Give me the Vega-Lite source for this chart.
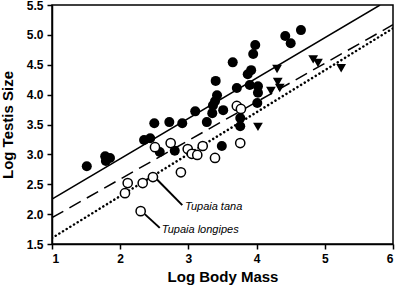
{
  "$schema": "https://vega.github.io/schema/vega-lite/v6.json",
  "width": 341,
  "height": 239,
  "autosize": "none",
  "padding": {"left": 52, "top": 5, "right": 4, "bottom": 45},
  "background": "white",
  "config": {
    "font": "Liberation Sans",
    "view": {"stroke": "black", "strokeWidth": 1.5},
    "axis": {
      "grid": false,
      "domainColor": "black",
      "domainWidth": 1.5,
      "tickColor": "black",
      "tickWidth": 1.5,
      "tickSize": 5,
      "labelFont": "Liberation Sans",
      "labelFontSize": 12,
      "labelFontWeight": "bold",
      "labelColor": "black",
      "titleFont": "Liberation Sans",
      "titleFontSize": 15,
      "titleFontWeight": "bold",
      "titleColor": "black"
    }
  },
  "datasets": {
    "pts": [
      {"g": "filled", "x": 1.51, "y": 2.80},
      {"g": "filled", "x": 1.78, "y": 2.97},
      {"g": "filled", "x": 1.79, "y": 2.89},
      {"g": "filled", "x": 1.85, "y": 2.94},
      {"g": "filled", "x": 2.35, "y": 3.24},
      {"g": "filled", "x": 2.44, "y": 3.27},
      {"g": "filled", "x": 2.50, "y": 3.52},
      {"g": "filled", "x": 2.72, "y": 3.54},
      {"g": "filled", "x": 2.91, "y": 3.52},
      {"g": "filled", "x": 2.58, "y": 3.04},
      {"g": "filled", "x": 2.80, "y": 3.06},
      {"g": "filled", "x": 3.10, "y": 3.72},
      {"g": "filled", "x": 3.27, "y": 3.54},
      {"g": "filled", "x": 3.36, "y": 3.82},
      {"g": "filled", "x": 3.35, "y": 3.69},
      {"g": "filled", "x": 3.42, "y": 3.99},
      {"g": "filled", "x": 3.39, "y": 3.89},
      {"g": "filled", "x": 3.51, "y": 3.74},
      {"g": "filled", "x": 3.40, "y": 4.23},
      {"g": "filled", "x": 3.65, "y": 4.54},
      {"g": "filled", "x": 3.87, "y": 4.34},
      {"g": "filled", "x": 3.92, "y": 4.41},
      {"g": "filled", "x": 3.71, "y": 4.11},
      {"g": "filled", "x": 3.90, "y": 4.16},
      {"g": "filled", "x": 4.02, "y": 4.14},
      {"g": "filled", "x": 4.02, "y": 4.03},
      {"g": "filled", "x": 3.98, "y": 4.83},
      {"g": "filled", "x": 3.95, "y": 4.68},
      {"g": "filled", "x": 4.42, "y": 4.98},
      {"g": "filled", "x": 4.50, "y": 4.86},
      {"g": "filled", "x": 4.65, "y": 5.08},
      {"g": "filled", "x": 4.01, "y": 3.86},
      {"g": "filled", "x": 3.76, "y": 3.61},
      {"g": "filled", "x": 3.76, "y": 3.47},
      {"g": "filled", "x": 3.49, "y": 3.14},
      {"g": "open", "x": 2.07, "y": 2.35},
      {"g": "open", "x": 2.11, "y": 2.52},
      {"g": "open", "x": 2.33, "y": 2.52},
      {"g": "open", "x": 2.48, "y": 2.62},
      {"g": "open", "x": 2.30, "y": 2.05},
      {"g": "open", "x": 2.89, "y": 2.70},
      {"g": "open", "x": 2.51, "y": 3.12},
      {"g": "open", "x": 2.74, "y": 3.19},
      {"g": "open", "x": 2.99, "y": 3.09},
      {"g": "open", "x": 3.05, "y": 3.01},
      {"g": "open", "x": 3.13, "y": 2.99},
      {"g": "open", "x": 3.21, "y": 3.14},
      {"g": "open", "x": 3.39, "y": 2.94},
      {"g": "open", "x": 3.76, "y": 3.19},
      {"g": "open", "x": 3.71, "y": 3.81},
      {"g": "open", "x": 3.77, "y": 3.76},
      {"g": "tri", "x": 4.30, "y": 4.43},
      {"g": "tri", "x": 4.31, "y": 4.21},
      {"g": "tri", "x": 4.34, "y": 4.11},
      {"g": "tri", "x": 4.21, "y": 4.06},
      {"g": "tri", "x": 4.83, "y": 4.59},
      {"g": "tri", "x": 4.90, "y": 4.53},
      {"g": "tri", "x": 5.24, "y": 4.44},
      {"g": "tri", "x": 4.02, "y": 3.46}
    ],
    "fits": [
      {"s": "solid", "x": 1, "y": 2.25},
      {"s": "solid", "x": 5.81, "y": 5.5},
      {"s": "dashed", "x": 1, "y": 1.94},
      {"s": "dashed", "x": 6, "y": 5.17},
      {"s": "dotted", "x": 1, "y": 1.60},
      {"s": "dotted", "x": 6, "y": 5.11}
    ],
    "notes": [
      {"label": "Tupaia tana", "x1": 2.54, "y1": 2.58, "x2": 2.91, "y2": 2.15, "tx": 2.95, "ty": 2.12},
      {"label": "Tupaia longipes", "x1": 2.36, "y1": 2.00, "x2": 2.58, "y2": 1.77, "tx": 2.61, "ty": 1.73}
    ]
  },
  "encoding": {
    "x": {"field": "x", "type": "quantitative", "scale": {"domain": [1, 6], "nice": false, "zero": false},
          "axis": {"title": "Log Body Mass", "values": [1, 2, 3, 4, 5, 6], "format": "d", "labelPadding": 4, "titlePadding": 5}},
    "y": {"field": "y", "type": "quantitative", "scale": {"domain": [1.5, 5.5], "nice": false, "zero": false},
          "axis": {"title": "Log Testis Size", "values": [1.5, 2, 2.5, 3, 3.5, 4, 4.5, 5, 5.5], "format": ".1f", "labelPadding": 4, "titlePadding": 11}}
  },
  "layer": [
    {"data": {"name": "fits"}, "transform": [{"filter": "datum.s === 'solid'"}],
     "mark": {"type": "line", "color": "black", "strokeWidth": 1.5, "clip": true}, "encoding": {}},
    {"data": {"name": "fits"}, "transform": [{"filter": "datum.s === 'dashed'"}],
     "mark": {"type": "line", "color": "black", "strokeWidth": 1.5, "strokeDash": [13, 7], "clip": true}, "encoding": {}},
    {"data": {"name": "fits"}, "transform": [{"filter": "datum.s === 'dotted'"}],
     "mark": {"type": "line", "color": "black", "strokeWidth": 2.5, "strokeDash": [0.1, 4.2], "strokeCap": "round", "clip": true}, "encoding": {}},
    {"data": {"name": "notes"},
     "mark": {"type": "rule", "color": "black", "strokeWidth": 2},
     "encoding": {"x": {"field": "x1", "type": "quantitative"}, "y": {"field": "y1", "type": "quantitative"},
                  "x2": {"field": "x2"}, "y2": {"field": "y2"}}},
    {"data": {"name": "notes"},
     "mark": {"type": "text", "align": "left", "baseline": "middle", "fontStyle": "italic", "fontSize": 11, "font": "Liberation Sans", "color": "black"},
     "encoding": {"x": {"field": "tx", "type": "quantitative"}, "y": {"field": "ty", "type": "quantitative"}, "text": {"field": "label"}}},
    {"data": {"name": "pts"}, "transform": [{"filter": "datum.g === 'filled'"}],
     "mark": {"type": "point", "shape": "circle", "filled": true, "color": "black", "size": 100, "opacity": 1}},
    {"data": {"name": "pts"}, "transform": [{"filter": "datum.g === 'open'"}],
     "mark": {"type": "point", "shape": "circle", "fill": "white", "stroke": "black", "strokeWidth": 1.5, "size": 85, "opacity": 1, "fillOpacity": 1}},
    {"data": {"name": "pts"}, "transform": [{"filter": "datum.g === 'tri'"}],
     "mark": {"type": "point", "shape": "triangle-down", "filled": true, "color": "black", "size": 95, "opacity": 1}}
  ]
}
